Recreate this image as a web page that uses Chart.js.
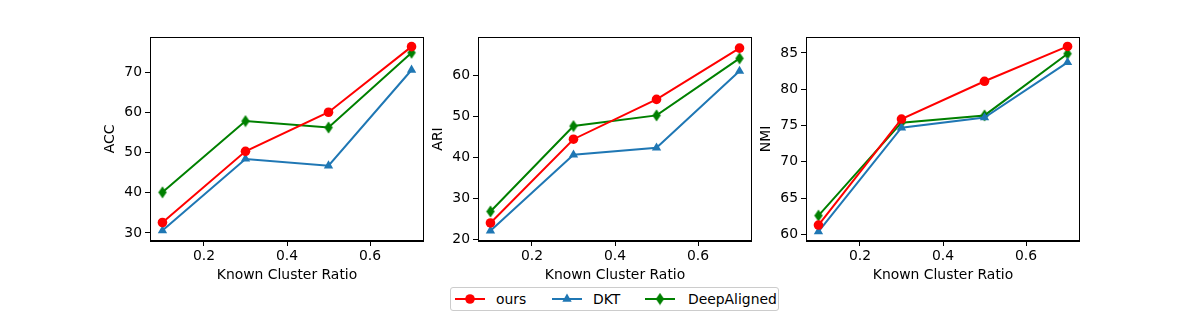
<!DOCTYPE html>
<html>
<head>
<meta charset="utf-8">
<script src="https://cdn.jsdelivr.net/npm/chart.js@4.4.1/dist/chart.umd.min.js"></script>
<style>
  body { margin: 0; background: #fff; }
  #fig { position: relative; width: 1200px; height: 320px; font-family: "DejaVu Sans", sans-serif; }
  .panel { position: absolute; top: 0; }
  #legend { position: absolute; left: 450px; top: 287px; width: 329px; height: 24px;
            border: 1px solid #cccccc; border-radius: 3px; box-sizing: border-box; }
  .item { position: absolute; top: 0; height: 24px; line-height: 23px; font-size: 13.9px; color: #000; }
</style>
</head>
<body>
<div id="fig">
  <div class="panel" style="left:102px"><canvas id="c1" width="322" height="284"></canvas></div>
  <div class="panel" style="left:430px"><canvas id="c2" width="322" height="284"></canvas></div>
  <div class="panel" style="left:758px"><canvas id="c3" width="322" height="284"></canvas></div>
  <div id="legend"></div>
</div>
<script>
// données
const ratios = [0.1, 0.3, 0.5, 0.7];
const methods = ['ours', 'DKT', 'DeepAligned'];

const accOurs = [32.6, 50.3, 60.0, 76.3];
const accDKT = [30.6, 48.4, 46.7, 70.5];
const accDeepAligned = [40.1, 57.8, 56.2, 74.8];

const ariOurs = [24.0, 44.4, 54.1, 66.6];
const ariDKT = [22.1, 40.6, 42.3, 61.0];
const ariDeepAligned = [26.8, 47.6, 50.2, 64.1];

const nmiOurs = [61.3, 75.9, 81.1, 85.9];
const nmiDKT = [60.4, 74.7, 76.1, 83.7];
const nmiDeepAligned = [62.6, 75.4, 76.4, 84.9];

const xTicks = [0.2, 0.4, 0.6];
const accTicks = [30, 40, 50, 60, 70];
const ariTicks = [20, 30, 40, 50, 60];
const nmiTicks = [60, 65, 70, 75, 80, 85];

const colors = { ours: '#ff0000', DKT: '#1f77b4', DeepAligned: '#008000' };
const FONT = { family: 'DejaVu Sans', size: 13.9 };

// losange fin (marqueur 'd' de matplotlib)
function thinDiamond(color) {
    const c = document.createElement('canvas');
    c.width = 10; c.height = 13;
    const ctx = c.getContext('2d');
    ctx.fillStyle = color;
    ctx.beginPath();
    ctx.moveTo(5, 0.5); ctx.lineTo(9.2, 6.5); ctx.lineTo(5, 12.5); ctx.lineTo(0.8, 6.5);
    ctx.closePath();
    ctx.fill();
    return c;
}

const markers = {
    ours: { pointStyle: 'circle', radius: 4.8 },
    DKT: { pointStyle: 'triangle', radius: 5.4 },
    DeepAligned: { pointStyle: thinDiamond(colors.DeepAligned), radius: 5 },
};

// cadre complet autour de la zone de tracé
const framePlugin = {
    id: 'frame',
    afterDraw(chart) {
        const a = chart.chartArea;
        const ctx = chart.ctx;
        ctx.save();
        ctx.strokeStyle = '#000';
        ctx.lineWidth = 1;
        ctx.strokeRect(Math.round(a.left) + 0.5, Math.round(a.top) + 0.5,
            Math.round(a.right - a.left) - 1, Math.round(a.bottom - a.top) - 1);
        ctx.restore();
    }
};

function makeDataset(name, values) {
    return {
        label: name,
        data: ratios.map((r, i) => ({ x: r, y: values[i] })),
        borderColor: colors[name],
        backgroundColor: colors[name],
        borderWidth: 2,
        pointStyle: markers[name].pointStyle,
        pointRadius: markers[name].radius,
        pointHoverRadius: markers[name].radius,
        pointBorderWidth: 0,
        tension: 0,
    };
}

function makePanel(id, yLabel, series, yMin, yMax, yTicks) {
    new Chart(document.getElementById(id), {
        type: 'line',
        data: {
            datasets: [
                makeDataset('ours', series[0]),
                makeDataset('DKT', series[1]),
                makeDataset('DeepAligned', series[2]),
            ]
        },
        options: {
            responsive: false,
            animation: false,
            layout: { autoPadding: false, padding: { top: 37, left: 0, right: 0, bottom: 0 } },
            plugins: { legend: { display: false }, tooltip: { enabled: false } },
            scales: {
                x: {
                    type: 'linear',
                    min: 0.07, max: 0.73,
                    afterBuildTicks: s => { s.ticks = xTicks.map(v => ({ value: v })); },
                    afterFit: s => { s.height = 43; s.paddingLeft = 0; s.paddingRight = 0; },
                    ticks: { color: '#000', font: FONT, padding: 2, maxRotation: 0,
                             callback: v => v.toFixed(1) },
                    grid: { drawOnChartArea: false, tickLength: 5, tickColor: '#000', tickWidth: 1 },
                    border: { color: '#000', width: 1 },
                    title: { display: true, text: 'Known Cluster Ratio', color: '#000', font: FONT, padding: 0 },
                },
                y: {
                    min: yMin, max: yMax,
                    afterBuildTicks: s => { s.ticks = yTicks.map(v => ({ value: v })); },
                    afterFit: s => { s.width = 48; s.paddingTop = 0; s.paddingBottom = 0; },
                    ticks: { color: '#000', font: FONT, padding: 3 },
                    grid: { drawOnChartArea: false, tickLength: 5, tickColor: '#000', tickWidth: 1 },
                    border: { color: '#000', width: 1 },
                    title: { display: true, text: yLabel, color: '#000', font: FONT, padding: 0 },
                },
            },
        },
        plugins: [framePlugin],
    });
}

makePanel('c1', 'ACC', [accOurs, accDKT, accDeepAligned], 28.0, 78.7, accTicks);
makePanel('c2', 'ARI', [ariOurs, ariDKT, ariDeepAligned], 19.6, 69.3, ariTicks);
makePanel('c3', 'NMI', [nmiOurs, nmiDKT, nmiDeepAligned], 59.1, 87.2, nmiTicks);

// légende commune en bas
const legendPos = [
    { handle: 4, text: 45 },
    { handle: 101, text: 142 },
    { handle: 194, text: 237 },
];
const legend = document.getElementById('legend');
methods.forEach((name, i) => {
    const h = document.createElement('canvas');
    h.width = 30; h.height = 20;
    h.style.left = legendPos[i].handle + 'px';
    h.style.position = 'absolute';
    h.style.top = '1px';
    const ctx = h.getContext('2d');
    ctx.strokeStyle = colors[name];
    ctx.fillStyle = colors[name];
    ctx.lineWidth = 2;
    ctx.beginPath(); ctx.moveTo(0, 10); ctx.lineTo(30, 10); ctx.stroke();
    if (name === 'ours') {
        ctx.beginPath(); ctx.arc(15, 10, 4.8, 0, Math.PI * 2); ctx.fill();
    } else if (name === 'DKT') {
        ctx.beginPath(); ctx.moveTo(15, 4.6); ctx.lineTo(19.7, 12.7); ctx.lineTo(10.3, 12.7); ctx.closePath(); ctx.fill();
    } else {
        ctx.drawImage(markers.DeepAligned.pointStyle, 10, 3.5);
    }
    legend.appendChild(h);
    const t = document.createElement('div');
    t.className = 'item';
    t.style.left = legendPos[i].text + 'px';
    t.textContent = name;
    legend.appendChild(t);
});
</script>
</body>
</html>
